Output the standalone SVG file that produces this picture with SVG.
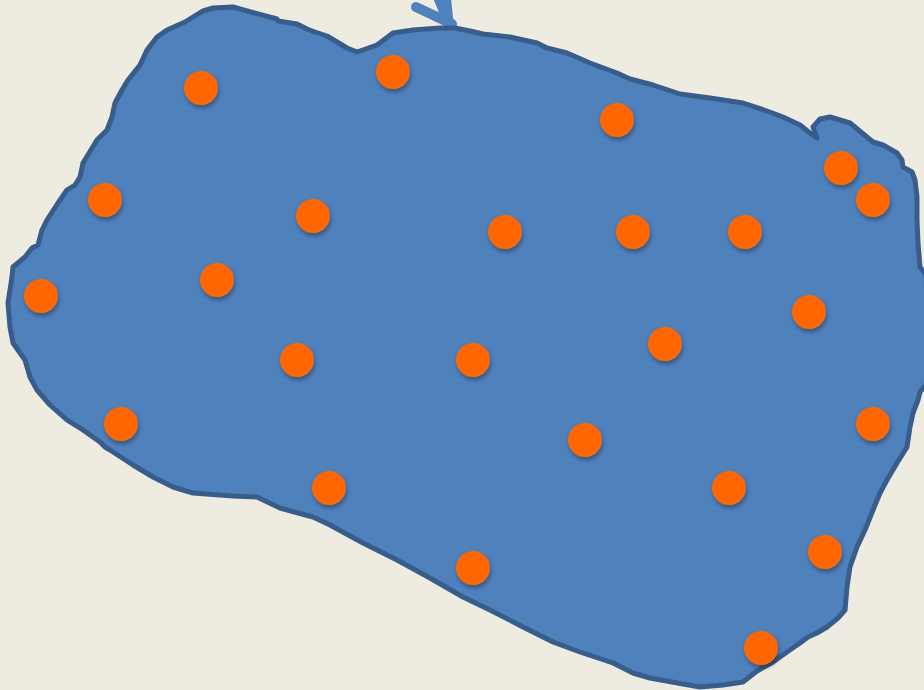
<svg xmlns="http://www.w3.org/2000/svg" width="924" height="690" viewBox="0 0 924 690">
<defs>
<filter id="sh" x="-50%" y="-50%" width="200%" height="200%">
<feDropShadow dx="1" dy="3" stdDeviation="2" flood-color="#000" flood-opacity="0.35"/>
</filter>
<style>
.blob{fill:#4F81BD;stroke:#385D8A;stroke-width:5;stroke-linejoin:round}
.dot{fill:#FF6600;filter:url(#sh)}
.arr{fill:none;stroke:#4F81BD;stroke-width:10;stroke-linecap:round;stroke-linejoin:round}
</style>
</defs>
<rect width="924" height="690" fill="#EEECE1"/>
<g id="arrow">
<path class="arr" d="M416,7 L452,24"/>
<polygon points="433,-2 451,-2 454,27 443,22" fill="#4F81BD"/>
</g>
<g id="region">
<path class="blob" d="M203,11 L213,8 L233,7 L240,9 L277,19 L278,21 L297,24 L307,29 L315,32 L327,36 L347,48 L357,52 L377,45 L393,33 L413,30 L440,28 L455,28 L470,31 L483,34 L510,37 L537,43 L547,48 L567,53 L590,63 L617,73 L630,79 L653,85 L680,94 L710,98 L743,103 L767,111 L783,117 L800,125 L810,133 L817,138 L813,127 L820,119 L830,117 L850,123 L873,142 L883,145 L897,153 L902,160 L903,167 L912,172 L915,180 L917,197 L917,220 L918,243 L920,267 L926,275 L930,380 L920,392 L918,400 L913,413 L910,427 L907,447 L897,463 L887,480 L880,493 L873,510 L865,530 L857,547 L850,567 L847,587 L845,610 L838,618 L827,627 L817,633 L808,637 L800,643 L787,652 L773,662 L757,671 L743,682 L723,685 L700,687 L683,684 L650,678 L633,673 L613,663 L580,652 L553,642 L523,627 L490,610 L463,597 L430,578 L397,560 L363,543 L330,525 L313,517 L280,508 L257,497 L233,496 L193,493 L173,487 L153,477 L133,465 L110,450 L105,447 L100,442 L83,430 L67,420 L50,405 L37,390 L30,377 L25,360 L20,353 L13,343 L10,327 L8,303 L12,277 L13,267 L25,257 L32,248 L38,245 L42,230 L47,220 L58,203 L67,190 L75,185 L80,177 L83,163 L97,140 L107,130 L112,117 L115,103 L122,90 L128,80 L140,65 L147,50 L157,37 L167,30 L185,22 L193,17 Z"/>
</g>
<g id="dots">
<circle class="dot" cx="201" cy="88" r="17"/>
<circle class="dot" cx="393" cy="72" r="17"/>
<circle class="dot" cx="617" cy="120" r="17"/>
<circle class="dot" cx="841" cy="168" r="17"/>
<circle class="dot" cx="873" cy="200" r="17"/>
<circle class="dot" cx="105" cy="200" r="17"/>
<circle class="dot" cx="313" cy="216" r="17"/>
<circle class="dot" cx="505" cy="232" r="17"/>
<circle class="dot" cx="633" cy="232" r="17"/>
<circle class="dot" cx="745" cy="232" r="17"/>
<circle class="dot" cx="217" cy="280" r="17"/>
<circle class="dot" cx="41" cy="296" r="17"/>
<circle class="dot" cx="809" cy="312" r="17"/>
<circle class="dot" cx="665" cy="344" r="17"/>
<circle class="dot" cx="297" cy="360" r="17"/>
<circle class="dot" cx="473" cy="360" r="17"/>
<circle class="dot" cx="121" cy="424" r="17"/>
<circle class="dot" cx="873" cy="424" r="17"/>
<circle class="dot" cx="585" cy="440" r="17"/>
<circle class="dot" cx="329" cy="488" r="17"/>
<circle class="dot" cx="729" cy="488" r="17"/>
<circle class="dot" cx="825" cy="552" r="17"/>
<circle class="dot" cx="473" cy="568" r="17"/>
<circle class="dot" cx="761" cy="648" r="17"/>
</g>
</svg>
